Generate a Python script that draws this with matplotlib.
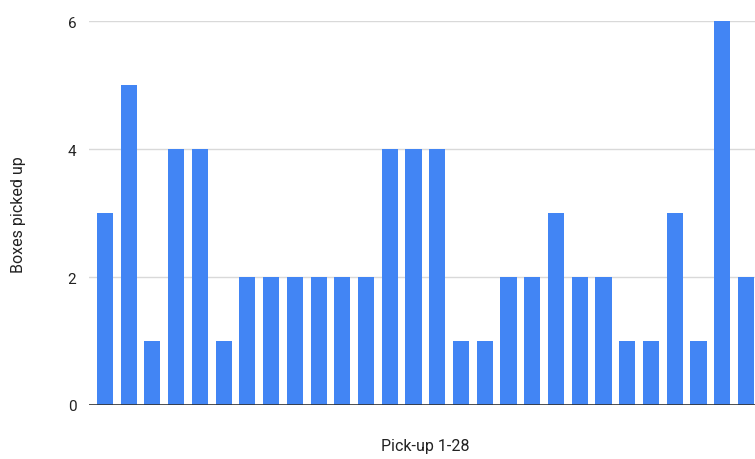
import numpy as np
import matplotlib.pyplot as plt

plt.rcParams['font.family'] = ['Roboto', 'DejaVu Sans']

# boxes collected on each pick-up run
pickups = list(range(1, 29))
boxes = [3, 5, 1, 4, 4, 1, 2, 2, 2, 2, 2, 2, 4, 4, 4, 1, 1, 2, 2, 3, 2, 2, 1, 1, 3, 1, 6, 2]
y_ticks = [0, 2, 4, 6]

fig = plt.figure(figsize=(7.55, 4.6), dpi=100)
ax = fig.add_axes([89 / 755, 54 / 460, 1 - 89 / 755, 384 / 460])

x = np.arange(len(pickups))
ax.bar(x, boxes, width=0.68, color='#4285F4', zorder=3)

ax.set_xlim(-0.67, 27.38)
ax.set_ylim(0, 6)
ax.set_yticks(y_ticks)
ax.set_xticks([])
ax.grid(axis='y', color='#d9d9d9', linewidth=1, zorder=0)
ax.axhline(0, color='#333333', linewidth=1.2, zorder=4)
for side in ['top', 'right', 'left', 'bottom']:
    ax.spines[side].set_visible(False)
ax.tick_params(axis='y', length=0, pad=9, labelsize=11, labelcolor='#222222')

fig.text(19 / 755, 1 - 215 / 460, 'Boxes picked up', ha='center', va='center',
         rotation=90, fontsize=11.5, color='#222222')
fig.text(425 / 755, 1 - 447 / 460, 'Pick-up 1-28', ha='center', va='center',
         fontsize=11.5, color='#222222')

plt.savefig('out.png', dpi=100)
